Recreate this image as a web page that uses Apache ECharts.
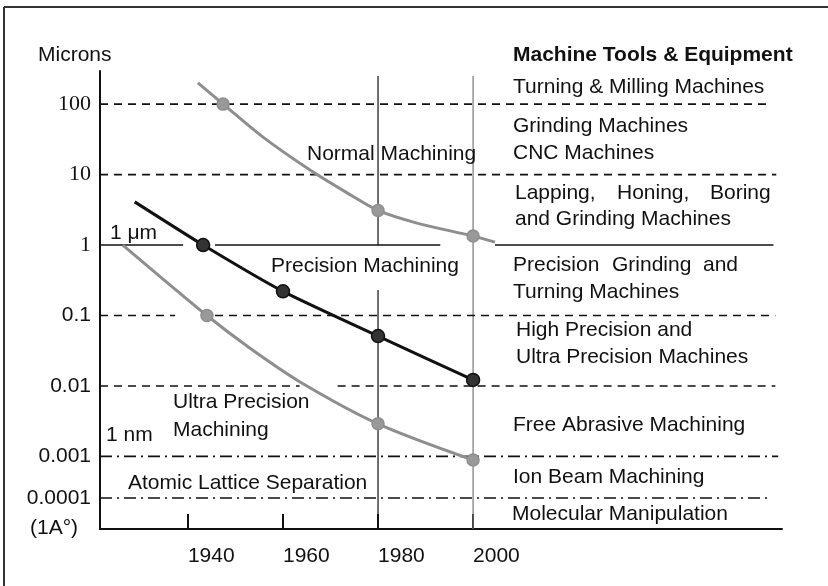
<!DOCTYPE html>
<html>
<head>
<meta charset="utf-8">
<script src="https://cdn.jsdelivr.net/npm/echarts@6/dist/echarts.min.js"></script>
<style>
  html, body { margin: 0; padding: 0; background: #fff; }
  #chart { width: 828px; height: 586px; }
</style>
</head>
<body>
<div id="chart"></div>
<script>
// curves: year, microns, and which points carry a dot
const normalYears   = [1942.1, 1947.4, 1955.8, 1965.7, 1973.5, 1980, 1988.2, 2000, 2004.6]
const normalMicrons = [200, 100, 34, 11.6, 5.5, 3.1, 2.05, 1.34, 1.1]
const normalDots    = [1, 5, 7]

const precisionYears   = [1928.8, 1943.2, 1960, 1980, 2000]
const precisionMicrons = [4.1, 1, 0.22, 0.051, 0.0122]
const precisionDots    = [1, 2, 3, 4]

const ultraYears   = [1926.3, 1944, 1953, 1963.6, 1980, 2000]
const ultraMicrons = [1, 0.1, 0.0346, 0.0114, 0.0029, 0.00082]
const ultraDots    = [1, 4, 5]

// y ticks (microns) and their labels
const tickMicrons = [100, 10, 1, 0.1, 0.01, 0.001, 0.0001]
const tickLabels  = ['100', '10', '1', '0.1', '0.01', '0.001', '0.0001']
const serifTicks  = ['100', '10', '1']

const xTicks = [1940, 1960, 1980, 2000]

// level lines: [microns, fromYear, toYear]
const dashedSegs  = [[100, 1921.5, 2062], [10, 1921.5, 2063.8], [0.1, 1921.5, 1937.3], [0.1, 1945.7, 2063.6],
                     [0.01, 1921.5, 1963.5], [0.01, 1971.5, 2063.6]]
const solidSegs   = [[1, 1921.5, 1939], [1, 1945.7, 1993.1], [1, 2004.6, 2063.2]]
const dashDotSegs = [[0.001, 1921.5, 2064.2], [0.0001, 1921.5, 2062.5]]

// vertical year lines: [year, topMicrons, bottomMicrons]
const AXIS_BOTTOM = 1.8e-5
const blackVSegs = [[1980, 250, 1], [1980, 0.23, AXIS_BOTTOM]]
const grayVSegs  = [[2000, 250, AXIS_BOTTOM]]

// schematic axis: one unit per decade, last decade squeezed
function yPos(m) {
  const l = Math.log10(m)
  return l >= -3 ? l + 4.03 : Math.max(0, 1.03 + (l + 3) * 0.59)
}

const GRAY = '#8e8e8e'
const SANS = '"Liberation Sans", Arial, sans-serif'
const SERIF = '"Liberation Serif", "Times New Roman", serif'

function curve(years, microns, dots, color, dotColor, dotBorder, smooth, size) {
  return {
    type: 'line',
    smooth,
    data: years.map((y, i) => [y, yPos(microns[i])]),
    symbol: 'circle',
    showAllSymbol: true,
    symbolSize: (v, p) => dots.includes(p.dataIndex) ? size : 0,
    lineStyle: { color, width: 3 },
    itemStyle: { color: dotColor, borderColor: dotBorder, borderWidth: 1.5 },
    z: 5,
    silent: true,
  }
}

function hSeg(seg, type, width) {
  return {
    type: 'line', symbol: 'none', silent: true,
    data: [[seg[1], yPos(seg[0])], [seg[2], yPos(seg[0])]],
    lineStyle: { color: '#111', width, type },
    z: 2,
  }
}

function vSeg(seg, color) {
  return {
    type: 'line', symbol: 'none', silent: true,
    data: [[seg[0], yPos(seg[1])], [seg[0], yPos(seg[2])]],
    lineStyle: { color, width: 1.2 },
    z: 1,
  }
}

function txt(text, x, y, extra) {
  return {
    type: 'text', z: 10, silent: true,
    style: Object.assign({
      text, x, y, fill: '#111', font: '21px ' + SANS,
      textVerticalAlign: 'middle', verticalAlign: 'middle',
    }, extra || {}),
  }
}

const chart = echarts.init(document.getElementById('chart'), null, { renderer: 'canvas' })

chart.setOption({
  backgroundColor: '#fff',
  animation: false,
  grid: { left: 100, right: 46, top: 71, bottom: 57 },
  xAxis: {
    type: 'value', min: 1921.5, max: 2065,
    splitLine: { show: false },
    axisLine: { lineStyle: { color: '#111', width: 2 } },
    axisTick: { customValues: xTicks, inside: true, length: 15, lineStyle: { color: '#111', width: 2 } },
    axisLabel: {
      customValues: xTicks, align: 'left', margin: 17,
      color: '#111', fontSize: 21, fontFamily: SANS,
      formatter: v => String(Math.round(v)),
    },
  },
  yAxis: {
    type: 'value', min: 0, max: 6.5,
    splitLine: { show: false },
    axisLine: { show: true, lineStyle: { color: '#111', width: 2 } },
    axisTick: { show: false },
    axisLabel: {
      customValues: tickMicrons.map(yPos),
      margin: 9,
      color: '#111',
      formatter: v => {
        let best = 0
        tickMicrons.forEach((m, i) => {
          if (Math.abs(yPos(m) - v) < Math.abs(yPos(tickMicrons[best]) - v)) best = i
        })
        const lab = tickLabels[best]
        return serifTicks.includes(lab) ? '{s|' + lab + '}' : '{n|' + lab + '}'
      },
      rich: {
        s: { fontFamily: SERIF, fontSize: 22, color: '#111' },
        n: { fontFamily: SANS, fontSize: 21, color: '#111' },
      },
    },
  },
  series: [
    ...dashedSegs.map(s => hSeg(s, [8, 6], 1.6)),
    ...solidSegs.map(s => hSeg(s, 'solid', 1.6)),
    ...dashDotSegs.map(s => hSeg(s, [12, 5, 2, 5], 1.6)),
    ...blackVSegs.map(s => vSeg(s, '#111')),
    ...grayVSegs.map(s => vSeg(s, '#777')),
    curve(normalYears, normalMicrons, normalDots, GRAY, '#999', GRAY, 0.3, 12),
    curve(ultraYears, ultraMicrons, ultraDots, GRAY, '#999', GRAY, 0.3, 12),
    curve(precisionYears, precisionMicrons, precisionDots, '#111', '#333', '#111', 0.2, 13),
  ],
  graphic: [
    { type: 'line', z: 0, silent: true, shape: { x1: 4, y1: 7, x2: 828, y2: 7 },
      style: { stroke: '#333', lineWidth: 2 } },
    { type: 'line', z: 0, silent: true, shape: { x1: 4, y1: 7, x2: 4, y2: 586 },
      style: { stroke: '#333', lineWidth: 2 } },
    txt('Microns', 38, 55),
    txt('(1A°)', 30, 528),
    txt('1 μm', 110, 233),
    txt('Normal Machining', 307, 154),
    txt('Precision Machining', 271, 266),
    txt('Ultra Precision', 173, 402),
    txt('Machining', 173, 430),
    txt('1 nm', 106, 435),
    txt('Atomic Lattice Separation', 128, 483),
    txt('Machine Tools & Equipment', 513, 55, { font: 'bold 21px ' + SANS }),
    txt('Turning & Milling Machines', 513, 87),
    txt('Grinding Machines', 513, 126),
    txt('CNC Machines', 513, 153),
    txt('Lapping,', 515, 193),
    txt('Honing,', 617, 193),
    txt('Boring', 710, 193),
    txt('and Grinding Machines', 515, 219),
    txt('Precision', 513, 265),
    txt('Grinding', 612, 265),
    txt('and', 703, 265),
    txt('Turning Machines', 513, 292),
    txt('High Precision and', 516, 330),
    txt('Ultra Precision Machines', 516, 357),
    txt('Free Abrasive Machining', 513, 425),
    txt('Ion Beam Machining', 513, 477),
    txt('Molecular Manipulation', 512, 514),
  ],
})
</script>
</body>
</html>
